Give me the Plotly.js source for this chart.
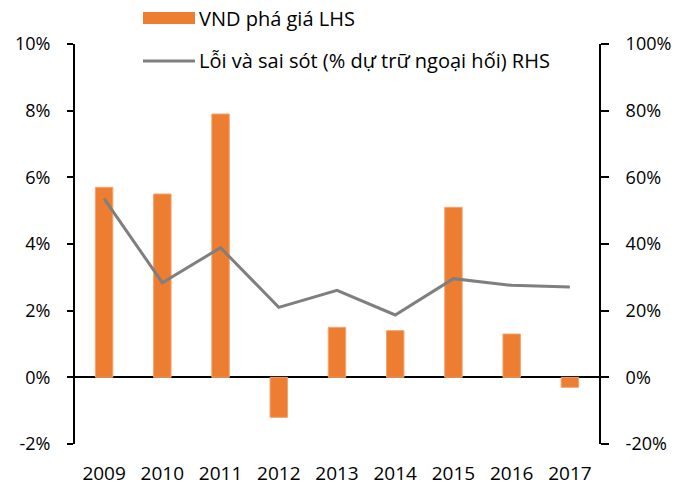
<!DOCTYPE html>
<html>
<head>
<meta charset="utf-8">
<script src="https://cdn.plot.ly/plotly-3.0.1.min.js"></script>
<style>html,body{margin:0;padding:0;background:#fff;}#chart{width:692px;height:486px;}</style>
</head>
<body>
<div id="chart"></div>
<script>
var years = ['2009','2010','2011','2012','2013','2014','2015','2016','2017'];
var vndDepreciation = [5.7, 5.5, 7.9, -1.2, 1.5, 1.4, 5.1, 1.3, -0.3];
var errorsOmissions = [53.6, 28.4, 38.9, 21.0, 26.1, 18.7, 29.6, 27.6, 27.1];
var leftTickVals = [-2, 0, 2, 4, 6, 8, 10];
var leftTickText = ['-2%', '0%', '2%', '4%', '6%', '8%', '10%'];
var rightTickVals = [-20, 0, 20, 40, 60, 80, 100];
var rightTickText = ['-20%', '0%', '20%', '40%', '60%', '80%', '100%'];
var barName = 'VND phá giá LHS';
var lineName = 'Lỗi và sai sót (% dự trữ ngoại hối) RHS';

var FONT = 'Open Sans, Noto Sans, sans-serif';
var ORANGE = '#ED7D31';
var GREY = '#7F7F7F';

// plot area in pixels (for placing the legend keys)
var L = 75, R = 93, T = 44, B = 42, W = 692, H = 486;
var pw = W - L - R, ph = H - T - B;
function px(x) { return (x - L) / pw; }
function py(y) { return (H - B - y) / ph; }

var traces = [
  {
    type: 'bar', x: years, y: vndDepreciation, name: barName, yaxis: 'y',
    marker: {color: ORANGE, line: {color: '#F4A46E', width: 1}},
    showlegend: false
  },
  {
    type: 'scatter', mode: 'lines', x: years, y: errorsOmissions, name: lineName, yaxis: 'y2',
    line: {color: GREY, width: 3}, showlegend: false
  }
];

var layout = {
  width: W, height: H,
  margin: {l: L, r: R, t: T, b: B, autoexpand: false},
  paper_bgcolor: '#fff', plot_bgcolor: '#fff',
  font: {family: FONT, size: 19, color: '#000'},
  bargap: 0.7,
  showlegend: false,
  xaxis: {type: 'category', showline: false, ticks: '', showgrid: false, zeroline: false,
          tickfont: {size: 19}, ticklabelstandoff: 16},
  yaxis: {range: [-2, 10], tickmode: 'array', tickvals: leftTickVals, ticktext: leftTickText,
          showgrid: false, zeroline: true,
          zerolinecolor: '#000', zerolinewidth: 2, showline: true, linecolor: '#000', linewidth: 2,
          ticks: 'outside', ticklen: 6, tickwidth: 2, tickcolor: '#000', ticklabelstandoff: 13,
          tickfont: {size: 18}},
  yaxis2: {range: [-20, 100], tickmode: 'array', tickvals: rightTickVals, ticktext: rightTickText,
           overlaying: 'y', side: 'right',
           showgrid: false, zeroline: false, showline: true, linecolor: '#000', linewidth: 2,
           ticks: 'outside', ticklen: 8, tickwidth: 2, tickcolor: '#000', ticklabelstandoff: 13,
           tickfont: {size: 18}},
  shapes: [
    {type: 'rect', xref: 'paper', yref: 'paper', x0: px(143), x1: px(195), y0: py(24), y1: py(12),
     fillcolor: ORANGE, line: {width: 0}},
    {type: 'line', xref: 'paper', yref: 'paper', x0: px(143), x1: px(195), y0: py(61), y1: py(61),
     line: {color: GREY, width: 3}}
  ],
  annotations: [
    {xref: 'paper', yref: 'paper', x: px(197), y: py(18), xanchor: 'left', yanchor: 'middle',
     text: barName, showarrow: false, font: {size: 20, color: '#000'}},
    {xref: 'paper', yref: 'paper', x: px(197), y: py(60), xanchor: 'left', yanchor: 'middle',
     text: lineName, showarrow: false, font: {size: 20, color: '#000'}}
  ]
};

Plotly.newPlot('chart', traces, layout, {displayModeBar: false, staticPlot: true});
</script>
</body>
</html>
